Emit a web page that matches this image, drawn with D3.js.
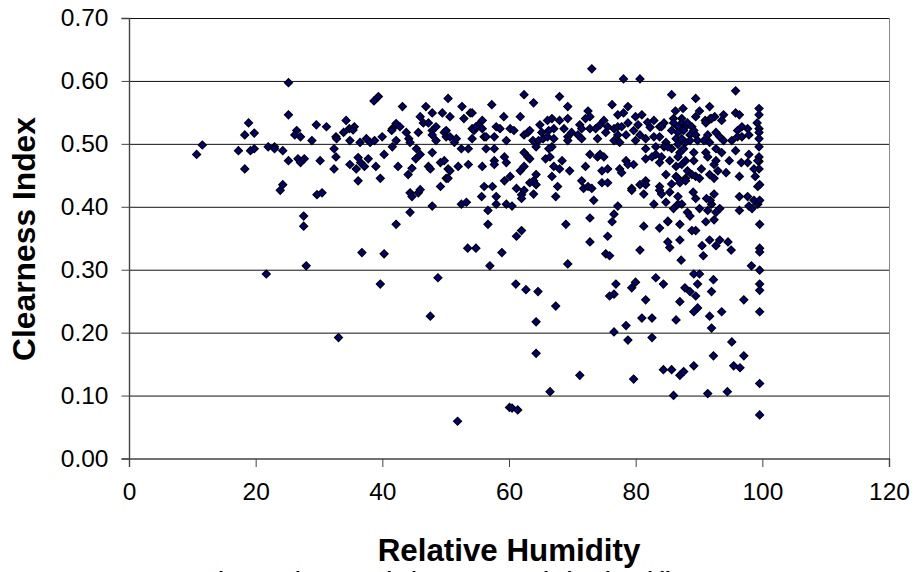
<!DOCTYPE html>
<html>
<head>
<meta charset="utf-8">
<script src="https://cdn.jsdelivr.net/npm/d3@7"></script>
<style>
	html, body { margin: 0; padding: 0; background: #fff; overflow: hidden; }
	svg { display: block; }
	text { font-family: "Liberation Sans", Arial, sans-serif; fill: #000; }
</style>
</head>
<body>
<svg id="chart" width="916" height="572"></svg>
<script>
const xTicks = [0, 20, 40, 60, 80, 100, 120];
const yTicks = [0, 0.1, 0.2, 0.3, 0.4, 0.5, 0.6, 0.7];
const xTitle = 'Relative Humidity';
const yTitle = 'Clearness Index';
const caption = 'Fig. 1: Clearness index versus relative humidity';

// same order in both arrays
const humidity = [
	10.6,11.5,17.2,18.2,18.2,18.8,19.7,19.1,19.7,21.9,
	22.9,22.9,24.2,25.1,25.1,25.1,26.4,26.1,27.0,26.6,
	27.0,27.6,24.2,23.8,21.6,27.9,27.5,27.5,33.0,36.7,
	40.2,39.6,47.5,48.7,51.8,53.4,54.7,56.9,58.8,60.0,
	28.8,29.5,31.1,30.1,29.6,30.4,34.2,33.8,34.7,35.5,
	35.3,32.6,32.7,34.8,32.3,32.6,32.3,34.8,36.1,35.8,
	36.5,37.1,37.7,36.1,38.9,39.6,40.2,36.4,37.4,38.0,
	38.7,39.9,38.6,39.3,43.1,41.5,42.1,41.5,41.4,42.1,
	42.7,43.7,44.1,44.3,45.3,45.9,45.2,45.6,45.9,46.4,
	47.2,46.8,47.8,49.4,50.6,50.3,52.5,52.8,53.8,54.1,
	57.2,59.1,61.7,62.3,48.4,47.8,47.8,48.4,49.7,50.0,
	50.0,50.6,51.3,51.6,52.4,53.5,47.8,42.4,44.6,44.0,
	47.2,47.5,49.1,49.7,50.3,50.6,51.9,53.5,55.7,50.0,
	50.3,49.1,44.3,44.6,45.6,45.9,47.8,44.3,42.1,52.4,
	53.2,54.1,54.4,54.1,55.1,55.7,55.7,54.7,56.0,56.3,
	57.6,57.9,58.5,59.5,60.1,60.7,62.3,62.9,56.3,57.6,
	57.6,57.6,59.2,59.5,62.3,62.9,61.7,62.3,60.1,59.2,
	56.0,57.3,55.6,57.9,57.9,59.5,60.4,61.1,62.3,61.9,
	61.9,63.2,56.6,56.6,61.9,61.1,73.0,78.0,80.6,63.8,
	67.9,69.2,64.8,66.0,66.7,67.9,69.2,68.6,71.1,71.4,
	72.4,72.0,72.7,76.2,78.7,78.0,77.1,79.9,80.9,85.6,
	89.4,91.6,95.7,90.0,89.4,86.2,87.4,93.8,93.5,95.7,
	96.3,99.4,99.4,99.1,92.4,91.7,90.9,99.4,99.4,99.4,
	99.4,99.4,99.4,99.4,63.2,65.1,63.7,64.2,64.6,65.3,
	66.2,67.0,66.0,67.0,66.7,66.2,69.2,69.2,69.8,70.8,
	71.4,72.7,73.6,74.3,74.9,75.2,73.9,75.5,76.5,77.1,
	77.7,78.7,79.6,80.3,77.1,76.5,78.4,77.4,80.6,79.9,
	81.5,81.8,82.8,82.2,83.7,84.4,84.0,82.8,83.7,84.7,
	83.1,81.5,85.9,87.2,85.9,87.2,86.6,87.8,85.6,86.6,
	87.5,88.8,88.1,89.1,86.3,87.2,88.5,89.4,86.6,87.8,
	85.6,87.5,86.9,84.4,85.0,88.5,89.7,90.7,91.6,91.3,
	92.6,93.2,93.8,95.1,96.0,96.7,97.6,96.0,96.7,97.8,
	91.0,91.9,92.6,93.5,91.0,91.3,89.1,95.7,94.7,96.6,
	97.6,97.8,99.2,98.6,83.1,82.5,84.0,81.5,83.7,85.3,
	86.6,87.8,87.2,86.3,89.1,92.6,92.3,92.9,90.3,78.4,
	78.7,79.6,77.4,77.7,72.7,73.9,74.3,74.9,72.0,74.6,
	75.5,69.5,67.9,67.0,68.3,65.7,66.4,63.2,66.7,64.2,
	63.8,64.2,67.6,67.3,63.8,71.4,71.7,72.4,73.0,73.3,
	74.6,75.5,79.3,79.3,80.6,81.5,81.5,81.2,77.1,76.5,
	76.2,72.7,68.9,75.5,72.7,82.8,84.7,83.7,83.7,84.0,
	85.3,84.7,86.6,85.6,85.9,86.6,87.2,86.3,86.6,86.9,
	87.8,87.8,88.1,88.8,89.4,90.0,91.6,92.3,94.2,96.3,
	89.0,89.4,90.0,88.1,88.5,91.0,91.3,91.9,91.7,91.1,
	92.3,93.2,92.6,92.3,96.3,97.6,96.3,97.8,98.3,98.6,
	99.2,99.5,99.2,98.8,99.5,99.5,81.2,83.7,85.0,85.0,
	86.9,88.8,89.4,85.0,86.9,85.3,80.6,90.4,91.6,93.2,
	94.5,92.6,95.0,99.5,99.5,90.6,61.0,62.6,64.5,67.3,
	64.2,64.2,60.4,61.3,66.4,69.2,71.1,75.2,75.8,76.8,
	75.8,76.5,79.9,79.3,81.5,80.9,82.5,78.4,76.5,78.7,
	82.5,79.6,84.3,85.6,86.9,87.5,89.1,83.1,84.3,87.1,
	89.1,90.0,89.7,92.2,87.7,88.5,89.4,91.9,86.9,89.7,
	89.1,91.6,93.5,86.3,91.9,97.0,95.1,92.2,95.4,96.4,
	97.0,85.9,91.3,94.4,98.2,99.5,99.5,99.5,99.5,99.5,
	99.5
];
const clearness = [
	.484,.499,.490,.461,.515,.534,.518,.490,.493,.496,
	.496,.493,.490,.598,.547,.474,.522,.515,.512,.477,
	.471,.477,.436,.427,.294,.307,.386,.370,.193,.328,
	.326,.278,.227,.288,.060,.335,.335,.307,.328,.082,
	.506,.531,.528,.474,.420,.423,.538,.519,.525,.528,
	.523,.512,.509,.506,.493,.480,.461,.468,.479,.461,
	.471,.465,.477,.442,.465,.446,.484,.503,.509,.503,
	.506,.512,.569,.576,.560,.496,.506,.525,.522,.533,
	.528,.519,.509,.503,.493,.484,.477,.519,.544,.534,
	.534,.560,.550,.550,.544,.573,.560,.541,.550,.550,
	.563,.544,.544,.579,.528,.522,.515,.506,.519,.522,
	.512,.512,.503,.509,.493,.493,.487,.465,.462,.452,
	.465,.461,.471,.474,.461,.458,.465,.468,.465,.446,
	.446,.433,.423,.417,.423,.428,.402,.392,.373,.405,
	.408,.525,.522,.509,.531,.538,.525,.528,.512,.512,
	.512,.528,.525,.506,.525,.522,.515,.519,.493,.493,
	.474,.468,.480,.471,.487,.480,.458,.465,.449,.442,
	.433,.433,.417,.417,.405,.405,.402,.430,.427,.420,
	.414,.439,.395,.373,.363,.354,.620,.604,.604,.566,
	.576,.560,.531,.538,.541,.538,.541,.525,.531,.525,
	.553,.541,.544,.563,.560,.550,.547,.544,.547,.579,
	.573,.560,.585,.553,.544,.553,.557,.547,.538,.550,
	.547,.557,.547,.534,.544,.541,.538,.525,.519,.509,
	.496,.480,.473,.461,.522,.519,.506,.496,.506,.509,
	.522,.525,.512,.509,.496,.493,.512,.506,.519,.515,
	.509,.525,.525,.531,.538,.519,.509,.528,.525,.528,
	.528,.534,.522,.531,.515,.506,.515,.503,.515,.506,
	.509,.535,.538,.527,.528,.534,.528,.512,.512,.503,
	.496,.493,.541,.541,.534,.534,.528,.528,.522,.519,
	.522,.528,.534,.522,.509,.509,.515,.515,.500,.503,
	.493,.493,.487,.496,.496,.506,.506,.506,.503,.515,
	.519,.512,.506,.506,.522,.528,.525,.512,.512,.515,
	.534,.541,.493,.487,.487,.480,.487,.490,.474,.471,
	.471,.484,.474,.461,.484,.480,.480,.477,.471,.474,
	.480,.474,.468,.465,.474,.474,.468,.458,.461,.474,
	.468,.468,.461,.455,.484,.480,.484,.480,.465,.458,
	.461,.458,.461,.465,.474,.477,.480,.477,.449,.452,
	.442,.436,.433,.417,.421,.442,.430,.433,.430,.411,
	.439,.439,.430,.427,.436,.442,.436,.421,.402,.389,
	.377,.383,.373,.354,.345,.405,.452,.433,.427,.421,
	.424,.408,.417,.437,.398,.405,.405,.449,.446,.439,
	.446,.442,.458,.452,.449,.446,.452,.446,.455,.449,
	.424,.414,.398,.392,.386,.377,.395,.405,.411,.414,
	.421,.398,.392,.380,.417,.417,.395,.402,.398,.411,
	.405,.411,.433,.449,.436,.373,.370,.367,.377,.378,
	.373,.363,.363,.345,.348,.336,.332,.339,.348,.348,
	.345,.339,.332,.335,.329,.323,.278,.269,.266,.243,
	.218,.168,.081,.078,.107,.310,.133,.326,.323,.278,
	.259,.262,.281,.272,.253,.224,.224,.212,.202,.189,
	.193,.127,.142,.142,.133,.139,.148,.288,.278,.316,
	.294,.294,.278,.285,.272,.266,.259,.266,.250,.240,
	.234,.227,.234,.221,.208,.253,.186,.164,.148,.145,
	.164,.101,.104,.107,.307,.300,.278,.268,.234,.120,
	.070
];

const svg = d3.select('#chart');

const xScale = d3.scaleLinear()
	.domain([0, 120])
	.range([129.5, 889.5]);
const yScale = d3.scaleLinear()
	.domain([0, 0.7])
	.range([459, 18.5]);

const axisColor = '#444';

// gridlines under everything else
svg.append('g')
	.selectAll('line')
	.data(yTicks.slice(1))
	.enter()
	.append('line')
	.attr('x1', xScale(0))
	.attr('x2', xScale(120))
	.attr('y1', d => yScale(d))
	.attr('y2', d => yScale(d))
	.attr('stroke', '#111')
	.attr('stroke-width', 1);

svg.append('line')
	.attr('x1', xScale(120))
	.attr('x2', xScale(120))
	.attr('y1', yScale(0.7))
	.attr('y2', yScale(0))
	.attr('stroke', '#888')
	.attr('stroke-width', 1);

const xAxis = d3.axisBottom(xScale)
	.tickValues(xTicks)
	.tickSize(8)
	.tickPadding(16)
	.offset(0);
const yAxis = d3.axisLeft(yScale)
	.tickValues(yTicks)
	.tickFormat(d3.format('.2f'))
	.tickSize(8)
	.tickPadding(13)
	.offset(0);

const gx = svg.append('g')
	.attr('transform', 'translate(0,' + yScale(0) + ')')
	.call(xAxis);
const gy = svg.append('g')
	.attr('transform', 'translate(' + xScale(0) + ',0)')
	.call(yAxis);

[gx, gy].forEach(g => {
	g.select('.domain').attr('stroke', axisColor).attr('stroke-width', 1.4);
	g.selectAll('.tick line').attr('stroke', axisColor).attr('stroke-width', 1);
	g.selectAll('text')
		.style('font-family', '"Liberation Sans", Arial, sans-serif')
		.style('font-size', '24.5px')
		.attr('fill', '#000');
});

const diamond = d3.symbol().type(d3.symbolSquare).size(32);

svg.append('g')
	.selectAll('path')
	.data(humidity.map((h, i) => [h, clearness[i]]))
	.enter()
	.append('path')
	.attr('d', diamond)
	.attr('transform', d => 'translate(' + xScale(d[0]) + ',' + yScale(d[1]) + ') rotate(45)')
	.attr('fill', '#000080')
	.attr('stroke', '#000')
	.attr('stroke-width', 1.2);

svg.append('text')
	.text(xTitle)
	.attr('x', 509)
	.attr('y', 561)
	.attr('text-anchor', 'middle')
	.style('font-size', '31.3px')
	.style('font-weight', 'bold');

svg.append('text')
	.text(yTitle)
	.attr('transform', 'translate(35,239) rotate(-90)')
	.attr('text-anchor', 'middle')
	.style('font-size', '31.8px')
	.style('font-weight', 'bold');

svg.append('text')
	.text(caption)
	.attr('x', 206)
	.attr('y', 585.5)
	.style('font-size', '20px')
	.style('font-weight', 'bold')
	.style('word-spacing', '5px');
</script>
</body>
</html>
